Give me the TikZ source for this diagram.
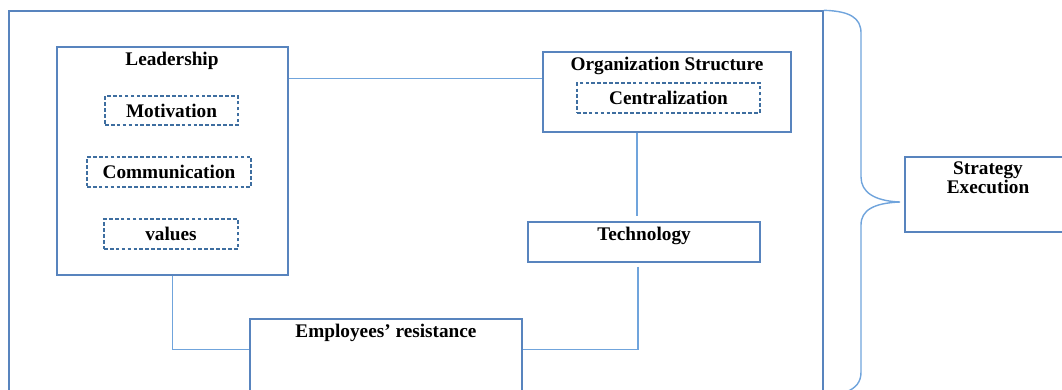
\documentclass[tikz,border=0pt]{standalone}
\usepackage{fontspec}
\setmainfont{Liberation Serif}
\definecolor{boxblue}{RGB}{88,132,190}
\definecolor{lineblue}{RGB}{112,164,220}
\definecolor{dashblue}{RGB}{62,110,160}
\tikzset{
  box/.style={draw=boxblue, line width=0.9pt, inner sep=0pt},
  dashbox/.style={draw=dashblue, line width=1pt, dash pattern=on 2.6pt off 1.6pt, inner sep=0pt,
    font={\fontsize{13.7}{16}\selectfont\bfseries}},
  title/.style={font={\fontsize{13.7}{16}\selectfont\bfseries}, inner sep=0pt},
  link/.style={draw=lineblue, line width=0.8pt},
}
\begin{document}
\begin{tikzpicture}[x=0.025cm, y=-0.025cm]
            \useasboundingbox (0,0) rectangle (1062,389);
            \clip (0,0) rectangle (1062,389);

            % outer frame (its bottom runs off the page)
            \node[box, minimum width=20.35cm, minimum height=10.225cm] (outer) at (416,215.5) {};

            % Leadership with its three parts
            \node[box, minimum width=5.775cm, minimum height=5.7cm] (lead) at (172.5,161) {};
            \node[title] (leadT) at (172,61) {Leadership};
            \node[dashbox, minimum width=3.325cm, minimum height=0.725cm] (motiv) at (171.5,110.5) {Motivation};
            \node[dashbox, minimum width=4.1cm, minimum height=0.75cm] (commu) at (169,172) {Communication};
            \node[dashbox, minimum width=3.35cm, minimum height=0.75cm] (vals) at (171,234) {values};

            % Organization Structure
            \node[box, minimum width=6.2cm, minimum height=2cm] (org) at (667,92) {};
            \node[title] (orgT) at (667,66) {Organization Structure};
            \node[dashbox, minimum width=4.575cm, minimum height=0.75cm] (centr) at (668.5,98) {Centralization};

            % Technology
            \node[box, minimum width=5.8cm, minimum height=1cm] (tech) at (644,242) {};
            \node[title] (techT) at (644,236) {Technology};

            % Employees' resistance (bottom cut off)
            \node[box, minimum width=6.8cm, minimum height=2.525cm] (emp) at (386,369.5) {};
            \node[title] (empT) at (386,333) {Employees’ resistance};

            % Strategy Execution
            \node[box, minimum width=4.25cm, minimum height=1.875cm] (strat) at (990,194.5) {};
            \node[title, align=center, font={\fontsize{13.7}{12}\selectfont\bfseries}] (stratT) at (988,178) {Strategy\\Execution};

            % links between the boxes
            \draw[link] ([yshift=-0.8cm]lead.north east) -- ([yshift=-0.8cm]lead.north east -| org.west);
            \draw[link] ([xshift=-0.175cm]tech.north |- org.south) -- ([xshift=-0.175cm,yshift=0.125cm]tech.north);
            \draw[link] ([xshift=-0.15cm,yshift=-0.1cm]tech.south) |- ([yshift=-0.775cm]emp.north east);
            \draw[link] (lead.south) |- ([yshift=-0.775cm]emp.north west);

            % brace towards Strategy Execution
            \draw[link, line width=1pt] (outer.north east) .. controls (850,11) and (861,18) .. (861,33)
                -- (861,177) .. controls (861,192) and (874,201) .. (900,202)
                .. controls (874,203) and (861,210) .. (861,225)
                -- (861,372) .. controls (861,382) and (856,388) .. (846,392);
\end{tikzpicture}
\end{document}
